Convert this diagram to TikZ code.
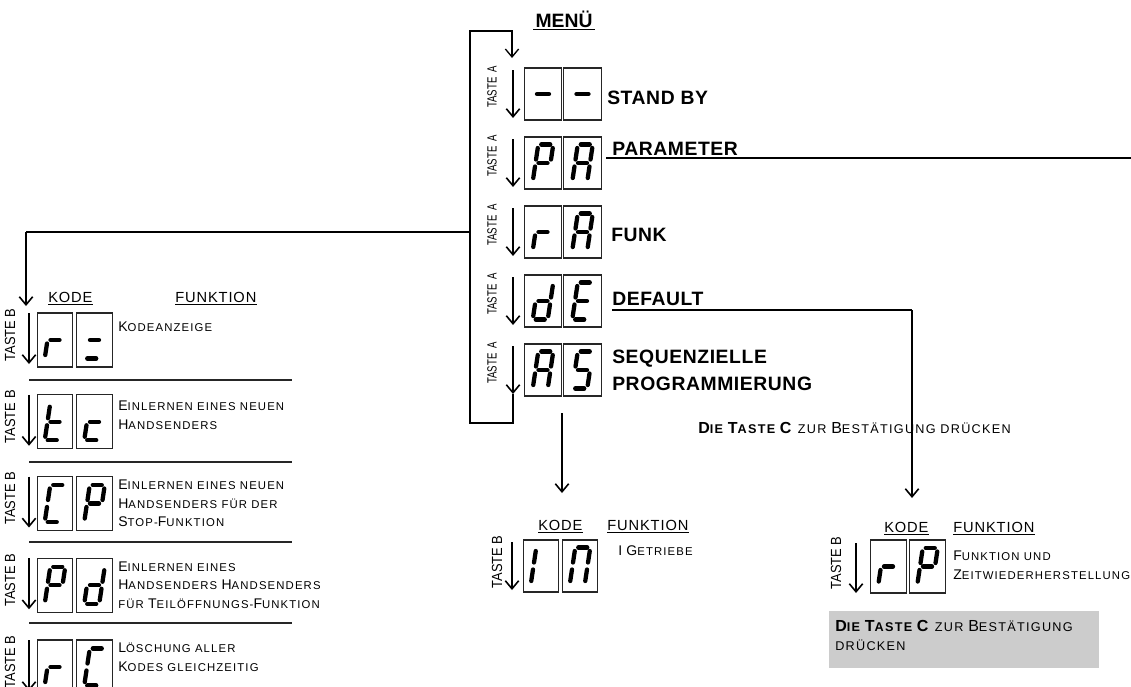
\documentclass[tikz,border=0pt]{standalone}
\usepackage{fontspec}
\setmainfont{Liberation Sans}
\newfontfamily\scf{Liberation Sans}[LetterSpace=10]
\newfontfamily\hdf{Liberation Sans}[LetterSpace=6]
\newfontfamily\lbf{Liberation Sans}[LetterSpace=3]
\usetikzlibrary{arrows.meta}
\newcommand\Bg[1]{{\fontsize{10.5}{14}\selectfont #1}}
\newcommand\Bh[1]{{\fontsize{12}{14}\selectfont #1}}
\newcommand\sgA{\draw[seg] (-4.5,-18.5) -- (4.5,-18.5);}
\newcommand\sgB{\draw[seg] (7.5,-15) -- (7.5,-3.5);}
\newcommand\sgC{\draw[seg] (7.5,3.5) -- (7.5,15);}
\newcommand\sgD{\draw[seg] (-4.5,18.5) -- (4.5,18.5);}
\newcommand\sgE{\draw[seg] (-7.5,3.5) -- (-7.5,15);}
\newcommand\sgF{\draw[seg] (-7.5,-15) -- (-7.5,-3.5);}
\newcommand\sgG{\draw[seg] (-4.5,0) -- (4.5,0);}
\newcommand\sgM{\draw[seg] (-6,0) -- (6,0);}
\newcommand\digit[2]{\begin{scope}[shift={(#1.center)},xslant=0.15]#2\end{scope}}
\newcommand\dP{\sgA\sgB\sgE\sgF\sgG}
\newcommand\dA{\sgA\sgB\sgC\sgE\sgF\sgG}
\newcommand\dr{\sgE\sgG}
\newcommand\dd{\sgB\sgC\sgD\sgE\sgG}
\newcommand\dE{\sgA\sgD\sgE\sgF\sgG}
\newcommand\dS{\sgA\sgF\sgG\sgC\sgD}
\newcommand\dt{\sgD\sgE\sgF\sgG}
\newcommand\dc{\sgD\sgE\sgG}
\newcommand\dC{\sgA\sgD\sgE\sgF}
\begin{document}
\begin{tikzpicture}[x=0.75pt,y=-0.75pt,
  mbox/.style={draw=black!85, line width=0.8pt, minimum width=28pt, minimum height=39pt, inner sep=0},
  lbox/.style={draw=black!85, line width=0.8pt, minimum width=26.5pt, minimum height=40.5pt, inner sep=0},
  seg/.style={line width=3.2pt, line cap=round},
  arr/.style={line width=1.2pt, -{Straight Barb[length=6pt,width=10pt]}},
  conn/.style={line width=1pt},
  sep/.style={line width=1pt, black!85},
  lab/.style={anchor=west, inner sep=0, font=\lbf\bfseries\fontsize{14.5}{17}\selectfont},
  sct/.style={anchor=west, inner sep=0, font=\scf\fontsize{8.5}{14}\selectfont, align=left},
  bct/.style={anchor=west, inner sep=0, font=\scf\fontsize{9.5}{14}\selectfont, align=left},
  hdr/.style={anchor=west, inner sep=0, font=\hdf\fontsize{11}{13}\selectfont},
  tA/.style={rotate=90, inner sep=0, font=\fontsize{10}{10}\selectfont},
  tB/.style={rotate=90, inner sep=0, font=\fontsize{11}{11}\selectfont}]
\clip (0,0) rectangle (1131,686);
\fill[white] (0,0) rectangle (1131,686);

% ---------- MENU ----------
\node[anchor=center, inner sep=1.5pt, font=\bfseries\fontsize{14.5}{16}\selectfont] (menu) at (564,19) {MENÜ};
\draw[line width=1.3pt] (menu.south west) -- (menu.south east);

\foreach \i/\a/\b/\n in {0/\sgM/\sgM/m0, 1/\dP/\dA/m1, 2/\dr/\dA/m2, 3/\dd/\dE/m3, 4/\dA/\dS/m4}{
  \node[mbox] (\n a) at (543,94+69*\i) {};
  \node[mbox] (\n b) at (582.5,94+69*\i) {};
  \digit{\n a}{\a}
  \digit{\n b}{\b}
  \node[tA] (\n t) at (492,87+69*\i) {\scalebox{0.72}[1]{TASTE\hskip0.5em A}};
  \coordinate (\n s) at (513,70+69*\i);
  \coordinate (\n e) at (513,118+69*\i);
  \draw[arr] (\n s) -- (\n e);
}
\node[lab] (lsb) at (607,97.5) {STAND BY};
\node[lab] (lpa) at (612,148.5) {PARAMETER};
\node[lab] (lfu) at (611,234.5) {FUNK};
\node[lab] (lde) at (612,298.5) {DEFAULT};
\node[lab] (lse) at (612,358.5) {SEQUENZIELLE};
\node[lab] (lpr) at (612,383.5) {PROGRAMMIERUNG};

% loop
\coordinate (lpA) at (513,423);
\coordinate (lpB) at (470,423);
\coordinate (lpC) at (470,31);
\coordinate (lpD) at (512,31);
\coordinate (lpE) at (512,58);
\draw[conn, -{Straight Barb[length=6pt,width=10pt]}] (m4e) -- (lpA) -- (lpB) -- (lpC) -- (lpD) -- (lpE);

% parameter line
\coordinate (paS) at (606,158);
\coordinate (paE) at (1131,158);
\draw[conn] (paS) -- (paE);

% funk branch
\coordinate (fuA) at (470,232);
\coordinate (fuB) at (26,232);
\coordinate (fuC) at (26,306);
\draw[conn] (fuA) -- (fuB);
\draw[arr] (fuB) -- (fuC);

% default branch
\coordinate (deA) at (612,310);
\coordinate (deB) at (912,310);
\coordinate (deC) at (912,498);
\draw[conn] (deA) -- (deB);
\draw[arr] (deB) -- (deC);

% AS down arrow
\coordinate (asA) at (562,413);
\coordinate (asB) at (562,493);
\draw[arr] (asA) -- (asB);

\node[bct] (conf1) at (698,428) {\textbf{\Bh{D}IE \Bh{T}ASTE \Bh{C}} ZUR \Bh{B}ESTÄTIGUNG DRÜCKEN};

% ---------- LEFT COLUMN ----------
\node[hdr] (lk) at (48,297) {KODE};
\node[hdr] (lf) at (175,297) {FUNKTION};
\draw[line width=0.8pt] ([yshift=-1.5pt]lk.south west) -- ([yshift=-1.5pt]lk.south east);
\draw[line width=0.8pt] ([yshift=-1.5pt]lf.south west) -- ([yshift=-1.5pt]lf.south east);

\foreach \j/\a/\b/\n in {0/\dr/{\sgG\sgD}/k0, 1/\dt/\dc/k1, 2/\dC/\dP/k2, 3/\dP/\dd/k3, 4/\dr/\dC/k4}{
  \node[lbox] (\n a) at (55,340+81.75*\j) {};
  \node[lbox] (\n b) at (94.5,340+81.75*\j) {};
  \digit{\n a}{\a}
  \digit{\n b}{\b}
  \node[tB] (\n t) at (10,335+81.75*\j) {\scalebox{0.88}[1]{TASTE B}};
  \coordinate (\n s) at (29,313+81.75*\j);
  \coordinate (\n e) at (29,364+81.75*\j);
  \draw[arr] (\n s) -- (\n e);
}
\foreach \y/\n in {380/s1, 462/s2, 542/s3, 623/s4}{
  \coordinate (\n a) at (29,\y);
  \coordinate (\n b) at (292,\y);
  \draw[sep] (\n a) -- (\n b);
}
\node[sct] (kt0) at (118,327) {\Bg{K}ODEANZEIGE};
\node[sct] (kt1) at (118,415) {\Bg{E}INLERNEN EINES NEUEN\\\Bg{H}ANDSENDERS};
\node[sct] (kt2) at (118,503.5) {\Bg{E}INLERNEN EINES NEUEN\\\Bg{H}ANDSENDERS FÜR DER\\\Bg{S}TOP-\Bg{F}UNKTION};
\node[sct] (kt3) at (118,585) {\Bg{E}INLERNEN EINES\\\Bg{H}ANDSENDERS \Bg{H}ANDSENDERS\\FÜR \Bg{T}EILÖFFNUNGS-\Bg{F}UNKTION};
\node[sct] (kt4) at (118,657) {\Bg{L}ÖSCHUNG ALLER\\\Bg{K}ODES GLEICHZEITIG};

% ---------- CENTER COLUMN ----------
\node[hdr] (ck) at (538,525) {KODE};
\node[hdr] (cf) at (607,525) {FUNKTION};
\draw[line width=0.8pt] ([yshift=-1.5pt]ck.south west) -- ([yshift=-1.5pt]ck.south east);
\draw[line width=0.8pt] ([yshift=-1.5pt]cf.south west) -- ([yshift=-1.5pt]cf.south east);
\node[mbox, minimum width=26.5pt] (c0a) at (541,566) {};
\node[mbox, minimum width=26.5pt] (c0b) at (580,566) {};
\digit{c0a}{\sgE\sgF}
\digit{c0b}{\sgA\sgB\sgC\sgE\sgF}
\node[tB] (c0t) at (497,562) {\scalebox{0.88}[1]{TASTE B}};
\coordinate (c0s) at (512,542);
\coordinate (c0e) at (512,590);
\draw[arr] (c0s) -- (c0e);
\node[sct] (ct0) at (618,551) {\Bg{I} \Bg{G}ETRIEBE};

% ---------- RIGHT COLUMN ----------
\node[hdr] (rk) at (884,527) {KODE};
\node[hdr] (rf) at (953,527) {FUNKTION};
\draw[line width=0.8pt] ([yshift=-1.5pt]rk.south west) -- ([yshift=-1.5pt]rk.south east);
\draw[line width=0.8pt] ([yshift=-1.5pt]rf.south west) -- ([yshift=-1.5pt]rf.south east);
\node[mbox, minimum width=27.25pt, minimum height=39.75pt] (r0a) at (888.5,566.5) {};
\node[mbox, minimum width=27.25pt, minimum height=39.75pt] (r0b) at (927.5,566.5) {};
\digit{r0a}{\dr}
\digit{r0b}{\dP}
\node[tB] (r0t) at (836,563) {\scalebox{0.88}[1]{TASTE B}};
\coordinate (r0s) at (856,543);
\coordinate (r0e) at (856,593);
\draw[arr] (r0s) -- (r0e);
\node[sct] (rt0) at (953,565) {\Bg{F}UNKTION UND\\\Bg{Z}EITWIEDERHERSTELLUNG};

\node[draw=none, fill=black!20, anchor=north west, minimum width=202.5pt, minimum height=42.75pt, inner sep=0] (gbox) at (829,611) {};
\node[bct, anchor=north west] (gtxt) at (835,620) {\textbf{\Bh{D}IE \Bh{T}ASTE \Bh{C}} ZUR \Bh{B}ESTÄTIGUNG\\DRÜCKEN};
\end{tikzpicture}
\end{document}
